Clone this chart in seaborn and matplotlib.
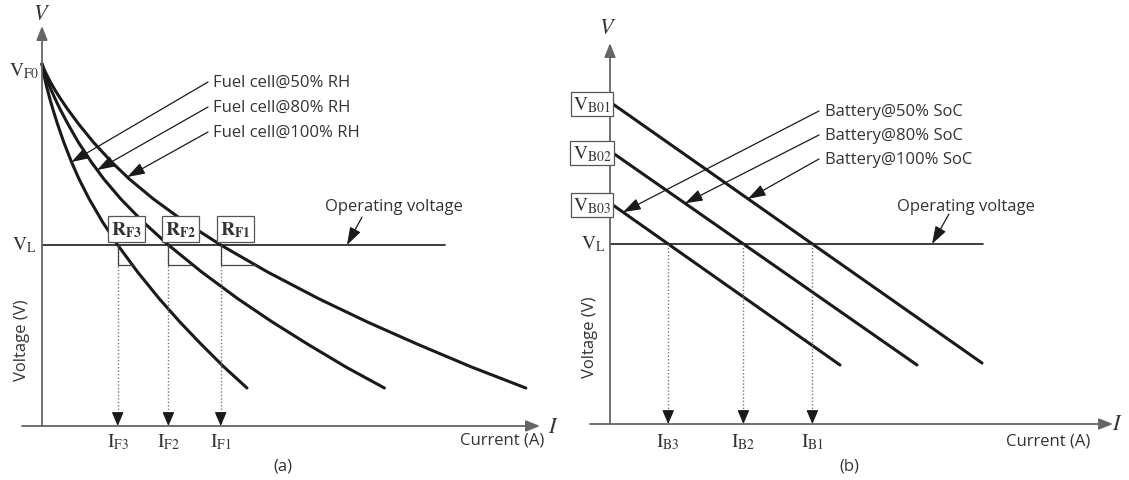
import numpy as np
import pandas as pd
import matplotlib
matplotlib.use("Agg")
import matplotlib.pyplot as plt
import seaborn as sns

# ---------------- data (read from the schematic) ----------------
# Fuel cell polarisation curves (current, voltage) in arbitrary units
fc_labels = ["Fuel cell@50% RH", "Fuel cell@80% RH", "Fuel cell@100% RH"]
fc_voltage = [36.2, 35.9, 35.6, 35.2, 34.7, 34.2, 33.5, 32.7, 31.7, 30.2, 28.4,
              26.4, 24.7, 22.7, 20.4, 18.1, 15.4, 12.7, 10.4, 8.2, 5.9, 3.8]
fc_current_50 = [0, 0.05, 0.10, 0.18, 0.29, 0.40, 0.58, 0.79, 1.08, 1.55, 2.17,
                 2.95, 3.70, 4.72, 6.06, 7.57, 9.56, 11.75, 13.79, 15.89, 18.20, 20.50]
fc_current_80 = [0, 0.08, 0.17, 0.30, 0.48, 0.67, 0.96, 1.32, 1.80, 2.59, 3.62,
                 4.93, 6.18, 7.88, 10.12, 12.64, 15.97, 19.62, 23.03, 26.54, 30.39, 34.24]
fc_current_100 = [0, 0.12, 0.24, 0.43, 0.68, 0.95, 1.36, 1.87, 2.55, 3.66, 5.12,
                  6.96, 8.73, 11.14, 14.30, 17.87, 22.56, 27.73, 32.54, 37.50, 42.95, 48.38]
fc_sub = ["F3", "F2", "F1"]
fc_run = [1.45, 2.3, 3.4]      # slope-triangle runs at V_L
fc_drop = 2.0
fc_arrow_v = [26.4, 25.6, 24.9]

# Battery lines (current, voltage)
bat_labels = ["Battery@50% SoC", "Battery@80% SoC", "Battery@100% SoC"]
bat_v0 = [32.2, 27.3, 22.1]           # V_B01, V_B02, V_B03
bat_i_end = [37.2, 30.7, 23.0]
bat_v_end = [6.1, 5.9, 5.9]
bat_v0_names = ["B01", "B02", "B03"]
bat_sub = ["B3", "B2", "B1"]
bat_arrow_i = [1.3, 7.5, 13.8]        # arrow tip currents on lines 3, 2, 1

V_L_fc = 18.1
V_L_bat = 18.0

# ---------------- style ----------------
sns.set_theme(style="white")
plt.rcParams["font.family"] = ["Open Sans", "DejaVu Sans"]
plt.rcParams["mathtext.fontset"] = "stix"
TXT = "#333333"
AX = "#666666"
LINE = "#1a1a1a"
FS = 12

fig = plt.figure(figsize=(11.29, 4.81), dpi=100)
axL = fig.add_axes([0, 0, 560 / 1129, 1])
axR = fig.add_axes([560 / 1129, 0, 569 / 1129, 1])
axL.set_xlim(-4.2, 51.8); axL.set_ylim(-5.4, 42.7)
axR.set_xlim(-5.0, 51.9); axR.set_ylim(-5.6, 42.5)
for ax in (axL, axR):
    ax.axis("off")

ax_arrow = dict(arrowstyle="-|>,head_length=0.7,head_width=0.28", color=AX, lw=1.3,
                shrinkA=0, shrinkB=0)
thin_arrow = dict(arrowstyle="-|>,head_length=0.9,head_width=0.3", color=LINE, lw=0.9,
                  shrinkA=0, shrinkB=0)
down_arrow = dict(arrowstyle="-|>,head_length=0.7,head_width=0.3", color=LINE, lw=0.9,
                  shrinkA=0, shrinkB=0)

def draw_axes(ax, x0, x1, ytop, vpos, ipos, cur_pos, volt_pos, cap_pos, cap):
    ax.annotate("", xy=(x1, 0), xytext=(x0, 0), arrowprops=ax_arrow)
    ax.annotate("", xy=(0, ytop), xytext=(0, 0), arrowprops=ax_arrow)
    ax.text(*vpos, "$V$", fontsize=16, ha="center", va="center", color=TXT)
    ax.text(*ipos, "$I$", fontsize=16, ha="center", va="center", color=TXT)
    ax.text(*cur_pos, "Current (A)", fontsize=FS, ha="center", va="center", color=TXT)
    ax.text(*volt_pos, "Voltage (V)", fontsize=FS, ha="center", va="center",
            rotation=90, color=TXT)
    ax.text(*cap_pos, cap, fontsize=FS, ha="center", va="center", color=TXT)

# ---------------- (a) fuel cell ----------------
draw_axes(axL, -2.0, 49.8, 40.0, (0.0, 41.2), (51.1, -0.1), (46.0, -1.4),
          (-2.0, 8.7), (24.1, -4.0), "(a)")
fc_curves = [fc_current_50, fc_current_80, fc_current_100]
df_fc = pd.concat([pd.DataFrame({"I": c, "V": fc_voltage, "s": lab})
                   for c, lab in zip(fc_curves, fc_labels)])
sns.lineplot(data=df_fc, x="I", y="V", units="s", estimator=None, sort=False,
             color=LINE, lw=2.2, ax=axL, legend=False)
axL.text(-1.8, 35.6, r"$\mathrm{V}_{\mathrm{F0}}$", fontsize=14, ha="center",
         va="center", color=TXT)
axL.text(-1.8, 18.2, r"$\mathrm{V}_{\mathrm{L}}$", fontsize=14, ha="center",
         va="center", color=TXT)
axL.plot([0, 40.3], [V_L_fc, V_L_fc], color=LINE, lw=1.2)

for k, (c, sub, run) in enumerate(zip(fc_curves, fc_sub, fc_run)):
    cross = np.interp(V_L_fc, fc_voltage[::-1], c[::-1])
    # dotted drop to current axis
    axL.plot([cross, cross], [V_L_fc, 1.0], color="#777777", lw=1.0, ls=(0, (1, 1.5)))
    axL.annotate("", xy=(cross, 0), xytext=(cross, 1.2), arrowprops=down_arrow)
    axL.text(cross, -1.5, r"$\mathrm{I}_{\mathrm{%s}}$" % sub, fontsize=14,
             ha="center", va="center", color=TXT)
    # slope triangle
    axL.plot([cross, cross, cross + run], [V_L_fc, V_L_fc - fc_drop, V_L_fc - fc_drop],
             color="#444444", lw=0.9)
    # resistance box
    axL.text(cross + 0.9 + 0.3 * k, 19.7, r"$\mathbf{R}_{\mathbf{%s}}$" % sub,
             fontsize=14, ha="center", va="center", color=TXT,
             bbox=dict(boxstyle="square,pad=0.15", fc="white", ec="#555555", lw=0.9))

for k, (c, lab, va) in enumerate(zip(fc_curves, fc_labels, fc_arrow_v)):
    ty = 34.4 - 2.5 * k
    tip = np.interp(va, fc_voltage[::-1], c[::-1])
    axL.annotate("", xy=(tip, va), xytext=(16.6, ty), arrowprops=thin_arrow)
    axL.text(17.1, ty, lab, fontsize=FS, ha="left", va="center", color=TXT)

axL.annotate("", xy=(30.5, V_L_fc), xytext=(32.0, 20.9), arrowprops=thin_arrow)
axL.text(35.2, 22.0, "Operating voltage", fontsize=FS, ha="center", va="center",
         color=TXT)

# ---------------- (b) battery ----------------
draw_axes(axR, -2.0, 50.3, 38.1, (-0.2, 39.7), (50.7, 0.0), (43.8, -1.7),
          (-2.0, 8.8), (23.9, -4.2), "(b)")
df_bat = pd.concat([pd.DataFrame({"I": [0, ie], "V": [v0, ve], "s": lab})
                    for v0, ie, ve, lab in zip(bat_v0, bat_i_end, bat_v_end, bat_labels)])
sns.lineplot(data=df_bat, x="I", y="V", units="s", estimator=None, sort=False,
             color=LINE, lw=2.2, ax=axR, legend=False)
axR.plot([0, 37.3], [V_L_bat, V_L_bat], color=LINE, lw=1.2)
axR.text(-1.7, 18.1, r"$\mathrm{V}_{\mathrm{L}}$", fontsize=14, ha="center",
         va="center", color=TXT)
for v0, nm in zip(bat_v0, bat_v0_names):
    axR.text(-1.8, v0 - 0.2, r"$\mathrm{V}_{\mathrm{%s}}$" % nm, fontsize=14,
             ha="center", va="center", color=TXT,
             bbox=dict(boxstyle="square,pad=0.12", fc="white", ec="#555555", lw=0.9))

crosses = []
for v0, ie, ve in zip(bat_v0, bat_i_end, bat_v_end):
    crosses.append(np.interp(V_L_bat, [ve, v0], [ie, 0]))
for cross, sub in zip(sorted(crosses), bat_sub):
    axR.plot([cross, cross], [V_L_bat, 1.0], color="#777777", lw=1.0, ls=(0, (1, 1.5)))
    axR.annotate("", xy=(cross, 0), xytext=(cross, 1.2), arrowprops=down_arrow)
    axR.text(cross, -1.7, r"$\mathrm{I}_{\mathrm{%s}}$" % sub, fontsize=14,
             ha="center", va="center", color=TXT)

order = [2, 1, 0]
for k, (lab, ti) in enumerate(zip(bat_labels, bat_arrow_i)):
    j = order[k]
    tv = np.interp(ti, [0, bat_i_end[j]], [bat_v0[j], bat_v_end[j]])
    ty = 31.3 - 2.4 * k
    axR.annotate("", xy=(ti, tv), xytext=(20.9, ty), arrowprops=thin_arrow)
    axR.text(21.5, ty, lab, fontsize=FS, ha="left", va="center", color=TXT)

axR.annotate("", xy=(32.2, V_L_bat), xytext=(33.9, 21.0), arrowprops=thin_arrow)
axR.text(35.6, 21.8, "Operating voltage", fontsize=FS, ha="center", va="center",
         color=TXT)

fig.savefig("out.png", dpi=100)
